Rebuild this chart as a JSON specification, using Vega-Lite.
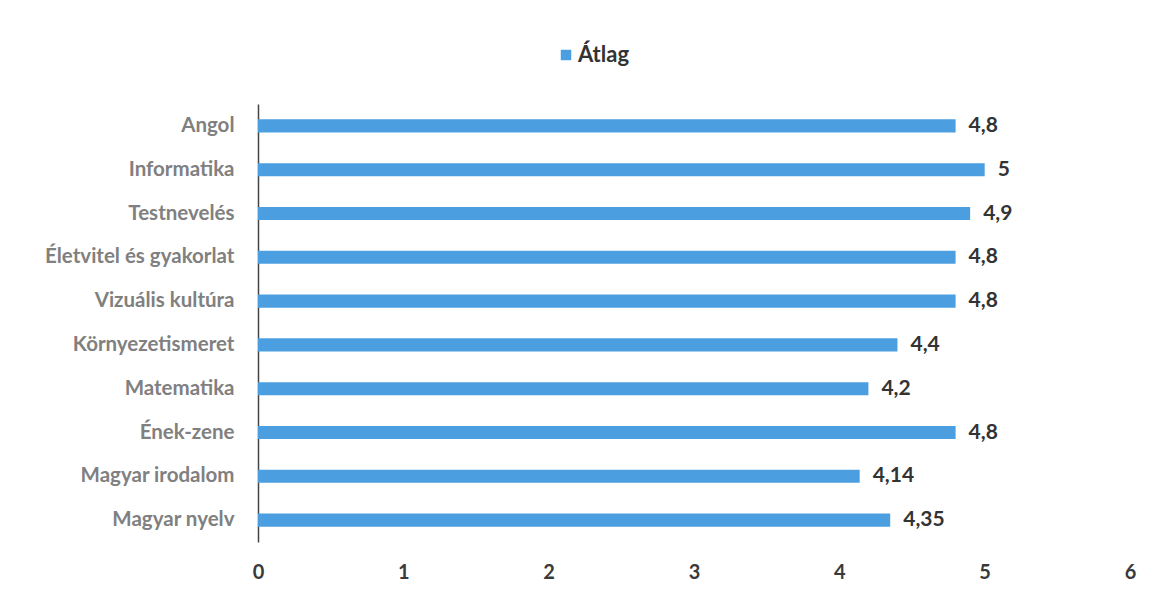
{
  "$schema": "https://vega.github.io/schema/vega-lite/v6.json",
  "autosize": {"type": "none"},
  "width": 872,
  "height": 438,
  "padding": {"left": 258, "top": 104, "right": 25, "bottom": 57},
  "background": "white",
  "config": {
    "view": {"stroke": null},
    "font": "Lato",
    "locale": {"number": {"decimal": ",", "thousands": " ", "grouping": [3], "currency": ["", ""]}}
  },
  "data": {
    "values": [
      {"tantargy": "Angol", "ertek": 4.8, "sorozat": "Átlag"},
      {"tantargy": "Informatika", "ertek": 5, "sorozat": "Átlag"},
      {"tantargy": "Testnevelés", "ertek": 4.9, "sorozat": "Átlag"},
      {"tantargy": "Életvitel és gyakorlat", "ertek": 4.8, "sorozat": "Átlag"},
      {"tantargy": "Vizuális kultúra", "ertek": 4.8, "sorozat": "Átlag"},
      {"tantargy": "Környezetismeret", "ertek": 4.4, "sorozat": "Átlag"},
      {"tantargy": "Matematika", "ertek": 4.2, "sorozat": "Átlag"},
      {"tantargy": "Ének-zene", "ertek": 4.8, "sorozat": "Átlag"},
      {"tantargy": "Magyar irodalom", "ertek": 4.14, "sorozat": "Átlag"},
      {"tantargy": "Magyar nyelv", "ertek": 4.35, "sorozat": "Átlag"}
    ]
  },
  "encoding": {
    "y": {
      "field": "tantargy",
      "type": "nominal",
      "sort": null,
      "scale": {"paddingInner": 0.7, "paddingOuter": 0.35},
      "axis": {
        "title": null,
        "ticks": false,
        "domain": true,
        "domainColor": "#444444",
        "domainWidth": 1.5,
        "labelFont": "Lato",
        "labelFontSize": 20.5,
        "labelFontWeight": "bold",
        "labelColor": "#808080",
        "labelPadding": 24,
        "labelLimit": 300
      }
    },
    "x": {
      "field": "ertek",
      "type": "quantitative",
      "scale": {"domain": [0, 6], "nice": false},
      "axis": {
        "title": null,
        "values": [0, 1, 2, 3, 4, 5, 6],
        "grid": false,
        "domain": false,
        "ticks": false,
        "labelFont": "Lato",
        "labelFontSize": 20,
        "labelFontWeight": "bold",
        "labelColor": "#3a3a3a",
        "labelPadding": 20,
        "labelFlush": false
      }
    }
  },
  "layer": [
    {
      "mark": {"type": "bar", "color": "#4b9fe0"},
      "encoding": {
        "color": {
          "field": "sorozat",
          "type": "nominal",
          "scale": {"range": ["#4b9fe0"]},
          "legend": {
            "title": null,
            "orient": "none",
            "legendX": 297,
            "legendY": -60,
            "symbolType": "square",
            "symbolSize": 110,
            "labelFont": "Lato",
            "labelFontSize": 22,
            "labelFontWeight": "bold",
            "labelColor": "#333333",
            "labelOffset": 1
          }
        }
      }
    },
    {
      "mark": {"type": "text", "align": "left", "baseline": "middle", "dx": 13, "font": "Lato", "fontSize": 21, "fontWeight": "bold", "color": "#333333"},
      "encoding": {
        "text": {"field": "ertek", "type": "quantitative", "format": ".3~r"}
      }
    }
  ]
}
